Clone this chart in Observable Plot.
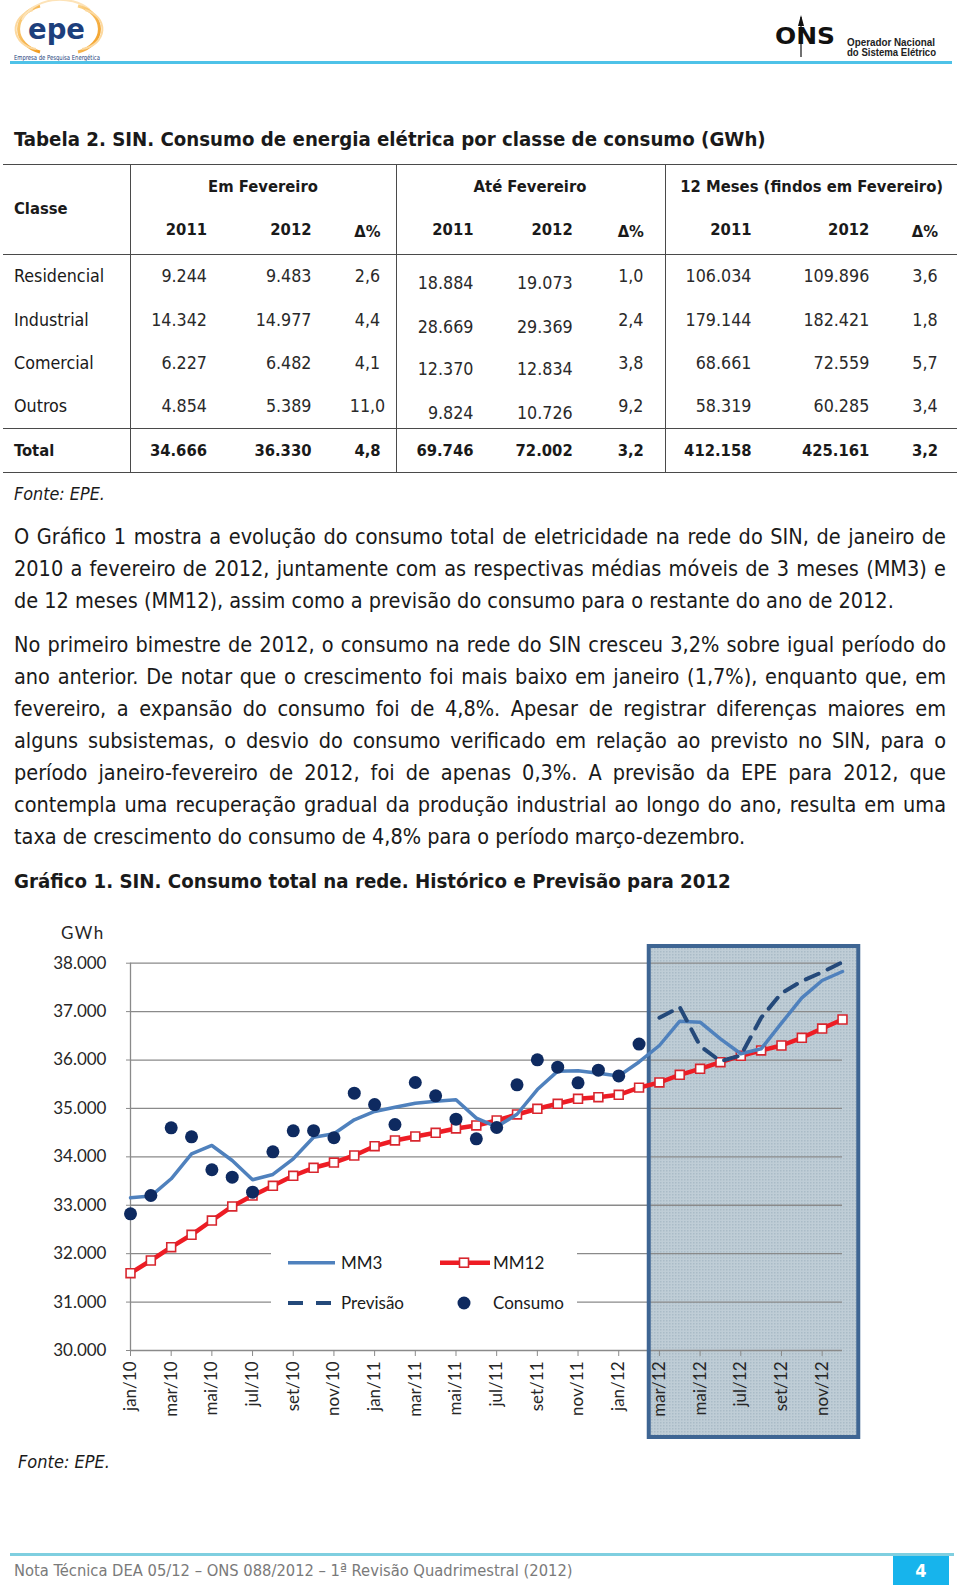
<!DOCTYPE html>
<html lang="pt">
<head>
<meta charset="utf-8">
<script src="https://cdn.jsdelivr.net/npm/d3@7"></script>
<script src="https://cdn.jsdelivr.net/npm/@observablehq/plot@0.6"></script>
<style>
html,body{margin:0;padding:0;background:#fff;}
#page{position:relative;width:960px;height:1591px;overflow:hidden;background:#fff;
 font-family:"DejaVu Sans Condensed","DejaVu Sans",sans-serif;font-stretch:condensed;color:#1a1a1a;}
.t{position:absolute;white-space:nowrap;}
.p{position:absolute;left:14px;width:932px;line-height:32px;text-align:justify;}
.j{text-align-last:justify;}
</style>
</head>
<body>
<div id="page"></div>
<script>
// ---------------- DATA ----------------
const tableTitle = "Tabela 2. SIN. Consumo de energia elétrica por classe de consumo (GWh)";
const classes = ["Residencial","Industrial","Comercial","Outros"];
const totalLabel = "Total";
const emFev2011 = [9244,14342,6227,4854];
const emFev2012 = [9483,14977,6482,5389];
const emFevDelta = [2.6,4.4,4.1,11.0];
const ateFev2011 = [18884,28669,12370,9824];
const ateFev2012 = [19073,29369,12834,10726];
const ateFevDelta = [1.0,2.4,3.8,9.2];
const m12_2011 = [106034,179144,68661,58319];
const m12_2012 = [109896,182421,72559,60285];
const m12Delta = [3.6,1.8,5.7,3.4];
const totals = [34666,36330,4.8,69746,72002,3.2,412158,425161,3.2];

const para1 = [
 "O Gráfico 1 mostra a evolução do consumo total de eletricidade na rede do SIN, de janeiro de",
 "2010 a fevereiro de 2012, juntamente com as respectivas médias móveis de 3 meses (MM3) e",
 "de 12 meses (MM12), assim como a previsão do consumo para o restante do ano de 2012."
];
const para2 = [
 "No primeiro bimestre de 2012, o consumo na rede do SIN cresceu 3,2% sobre igual período do",
 "ano anterior. De notar que o crescimento foi mais baixo em janeiro (1,7%), enquanto que, em",
 "fevereiro, a expansão do consumo foi de 4,8%. Apesar de registrar diferenças maiores em",
 "alguns subsistemas, o desvio do consumo verificado em relação ao previsto no SIN, para o",
 "período janeiro-fevereiro de 2012, foi de apenas 0,3%. A previsão da EPE para 2012, que",
 "contempla uma recuperação gradual da produção industrial ao longo do ano, resulta em uma",
 "taxa de crescimento do consumo de 4,8% para o período março-dezembro."
];
const chartTitle = "Gráfico 1. SIN. Consumo total na rede. Histórico e Previsão para 2012";

const monthLabels = ["jan/10","fev/10","mar/10","abr/10","mai/10","jun/10","jul/10","ago/10","set/10","out/10","nov/10","dez/10",
 "jan/11","fev/11","mar/11","abr/11","mai/11","jun/11","jul/11","ago/11","set/11","out/11","nov/11","dez/11",
 "jan/12","fev/12","mar/12","abr/12","mai/12","jun/12","jul/12","ago/12","set/12","out/12","nov/12","dez/12"];
const forecastStart = "mar/12";
const consumo = [32824,33202,34600,34414,33733,33580,33270,34104,34538,34540,34394,35315,
 35080,34666,35536,35261,34778,34373,34606,35488,36005,35852,35530,35790,35672,36330];
const mm3 = [33154,33190,33547,34063,34235,33925,33526,33636,33960,34406,34476,34765,
 34937,35026,35109,35150,35179,34800,34620,34880,35390,35770,35780,35728,35670,35960,
 36300,36802,36782,36438,36129,36232,36761,37285,37643,37829];
const mm12 = [31597,31859,32134,32390,32685,32975,33200,33402,33609,33774,33883,34028,
 34220,34338,34421,34497,34586,34648,34751,34875,34993,35096,35199,35233,35282,35430,
 35536,35695,35819,35955,36088,36197,36300,36459,36651,36837];
const previsao = [36873,37092,36290,35976,36094,36873,37381,37629,37815,38021]; // mar/12 - dez/12
const yTicks = [30000,31000,32000,33000,34000,35000,36000,37000,38000];
const legendItems = ["MM3","MM12","Previsão","Consumo"];
const footerText = "Nota Técnica DEA 05/12 – ONS 088/2012 – 1ª Revisão Quadrimestral (2012)";
const pageNumber = "4";
const fonte = "Fonte: EPE.";

// ---------------- HELPERS ----------------
const page = document.getElementById("page");
const loc = d3.formatLocale({decimal:",",thousands:".",grouping:[3],currency:["",""]});
const f0 = loc.format(",.0f"), f1 = loc.format(".1f");
function put(text,x,y,o={}){
  const el=document.createElement("div");
  el.className="t"; el.textContent=text;
  const lh=o.lh||24;
  el.style.left=x+"px"; el.style.top=(y-lh/2)+"px"; el.style.lineHeight=lh+"px";
  if(o.size) el.style.fontSize=o.size+"px";
  if(o.bold) el.style.fontWeight="bold";
  if(o.italic) el.style.fontStyle="italic";
  if(o.color) el.style.color=o.color;
  if(o.family) el.style.fontFamily=o.family;
  if(o.align==="right") el.style.transform="translateX(-100%)";
  if(o.align==="center") el.style.transform="translateX(-50%)";
  page.appendChild(el); return el;
}
function fit(el,target){el.style.fontSize="20px";const w=el.getBoundingClientRect().width;const s=20*target/w;el.style.fontSize=s+"px";return s;}
function box(x,y,w,h,bg){const d=document.createElement("div");d.style.cssText=`position:absolute;left:${x}px;top:${y}px;width:${w}px;height:${h}px;background:${bg};`;page.appendChild(d);return d;}

// ---------------- HEADER ----------------
const hdr=document.createElement("div");
hdr.innerHTML=`
<svg style="position:absolute;left:0;top:0" width="130" height="66">
 <defs><linearGradient id="og" x1="0" y1="0" x2="1" y2="1"><stop offset="0" stop-color="#fbd48a"/><stop offset="1" stop-color="#f29b1d"/></linearGradient></defs>
 <path d="M40 6 A30 24 0 0 0 40 52" fill="none" stroke="url(#og)" stroke-width="3"/>
 <path d="M33 10 A24 20 0 0 0 36 49" fill="none" stroke="#fcd9a0" stroke-width="2"/>
 <path d="M22 20 A40 30 0 0 1 90 10" fill="none" stroke="#fde3b8" stroke-width="2"/>
 <path d="M78 6 A30 24 0 0 1 78 52" fill="none" stroke="url(#og)" stroke-width="3"/>
 <path d="M85 10 A24 20 0 0 1 82 49" fill="none" stroke="#fcd9a0" stroke-width="2"/>
 <text x="28" y="39" font-family="DejaVu Sans" font-weight="bold" font-size="29" fill="#1d3f7c" textLength="57" lengthAdjust="spacingAndGlyphs">epe</text>
 <text x="14" y="59.5" font-family="DejaVu Sans Condensed, DejaVu Sans" font-size="7" fill="#1d3f7c" textLength="86" lengthAdjust="spacingAndGlyphs">Empresa de Pesquisa Energética</text>
</svg>
<svg style="position:absolute;left:760px;top:10px" width="200" height="55">
 <text x="15" y="34" font-family="DejaVu Sans" font-weight="bold" font-size="23" fill="#111" textLength="60" lengthAdjust="spacingAndGlyphs">ONS</text>
 <line x1="41" y1="7" x2="41" y2="47" stroke="#111" stroke-width="1.2"/>
 <path d="M41 5 L38 16 L44 16 Z" fill="#111"/>
 <text x="87" y="35.5" font-family="Liberation Sans, Arial, sans-serif" font-weight="bold" font-size="10.5" fill="#222" textLength="88" lengthAdjust="spacingAndGlyphs">Operador Nacional</text>
 <text x="87" y="45.5" font-family="Liberation Sans, Arial, sans-serif" font-weight="bold" font-size="10.5" fill="#222" textLength="89" lengthAdjust="spacingAndGlyphs">do Sistema Elétrico</text>
</svg>`;
page.appendChild(hdr);
box(10,61,942,2.5,"#4ec2e8");

// ---------------- TABLE ----------------
const tt=put(tableTitle,14,139,{bold:true,lh:30}); fit(tt,752);
const probe=put(classes[0],14,276,{}); const bodySize=fit(probe,90.3); probe.remove();
const lineCol="#4a4a4a";
box(3,163.5,954,1.6,lineCol); box(3,253.5,954,1.6,lineCol); box(3,427.5,954,1.6,lineCol); box(3,471.5,954,1.6,lineCol);
[130.3,396.7,665.7].forEach(x=>box(x-0.8,164,1.6,308.5,lineCol));
const S=bodySize;
const h12=put("12 Meses (findos em Fevereiro)",811.7,186.7,{bold:true,align:"center"});
const B=fit(h12,263);
put("Classe",14,209,{size:B,bold:true});
put("Em Fevereiro",263,186.7,{size:B,bold:true,align:"center"});
put("Até Fevereiro",530,186.7,{size:B,bold:true,align:"center"});
const cols=[207,311.5,367.5,473.5,572.7,630.8,751.5,869.3,925];
const al=["right","right","center","right","right","center","right","right","center"];
const hdr2=["2011","2012","Δ%","2011","2012","Δ%","2011","2012","Δ%"];
hdr2.forEach((h,i)=>put(h,cols[i],230+(i%3===2?2:0),{size:B,bold:true,align:al[i]}));
const rowY=[276,320,362.7,406];
const series=[emFev2011,emFev2012,emFevDelta,ateFev2011,ateFev2012,ateFevDelta,m12_2011,m12_2012,m12Delta];
classes.forEach((c,r)=>{
  put(c,14,rowY[r],{size:S});
  series.forEach((s,i)=>{
    const txt=(i%3===2)?f1(s[r]):f0(s[r]);
    const off=(i===3||i===4)?6.5:0;
    put(txt,cols[i],rowY[r]+off,{size:S,align:al[i],color:"#2a2a2a"});
  });
});
put(totalLabel,14,450.7,{size:B,bold:true});
totals.forEach((v,i)=>put((i%3===2)?f1(v):f0(v),cols[i],450.7,{size:B,bold:true,align:al[i]}));
const fo1=put(fonte,14,494,{italic:true}); fit(fo1,91);

// ---------------- PARAGRAPHS ----------------
const probeA=put(para1[2],14,0,{}); const sA=fit(probeA,876); probeA.remove();
const probeB=put(para2[6],14,0,{}); const sB=fit(probeB,735); probeB.remove();
let pSize=(sA+sB)/2;
const allJ=[...para1.slice(0,2),...para2.slice(0,6)];
let maxW=0; allJ.forEach(l=>{const e=put(l,0,0,{size:pSize});maxW=Math.max(maxW,e.getBoundingClientRect().width);e.remove();});
if(maxW>928) pSize*=928/maxW;
function para(lines,ys){
  lines.forEach((l,i)=>{const d=document.createElement("div");d.className="p"+(i<lines.length-1?" j":"");
    d.style.top=(ys[i]-16)+"px";d.style.fontSize=pSize+"px";d.textContent=l;page.appendChild(d);});
}
para(para1,[537,569,601]);
para(para2,[645.4,677,709.3,741,773.3,805,837.2]);
const ct=put(chartTitle,14,881,{bold:true,lh:30}); fit(ct,717);

// ---------------- CHART ----------------
const iStart=monthLabels.indexOf(forecastStart);
const last=monthLabels.length-1;
const xTicks=monthLabels.map((d,i)=>i).filter(i=>i%2===0);
const gridC="#8a8a8a";
const chart=Plot.plot({
  width:960,height:545,marginLeft:130,marginRight:118,marginTop:62.7,marginBottom:95,
  style:{fontFamily:"Lato, 'Open Sans', sans-serif",fontSize:"17px",color:"#262626",background:"none",overflow:"visible"},
  x:{type:"linear",domain:[0,last]},
  y:{type:"linear",domain:[30000,38000]},
  marks:[
    Plot.rect([0],{x1:iStart-0.5,x2:last+0.8,y1:28203,y2:38345,fill:"url(#shade)"}),
    Plot.ruleY(yTicks,{x1:0,x2:last,stroke:gridC,strokeWidth:1.3}),
    Plot.ruleX([0],{y1:30000,y2:38000,stroke:gridC,strokeWidth:1.3}),
    Plot.rect([0],{x1:iStart-0.5,x2:last+0.8,y1:28203,y2:38345,fill:"none",stroke:"#3e6593",strokeWidth:4}),
    Plot.axisY(yTicks,{anchor:"left",tickSize:4,tickPadding:20,tickFormat:f0,fontSize:17,stroke:gridC,label:null}),
    Plot.axisX(xTicks,{anchor:"bottom",tickSize:6,tickPadding:5,tickRotate:-90,tickFormat:i=>monthLabels[i],fontSize:17,stroke:gridC,label:null}),
    Plot.line(mm12,{x:(d,i)=>i,y:d=>d,stroke:"#ee1c24",strokeWidth:4.5}),
    Plot.dot(mm12,{x:(d,i)=>i,y:d=>d,symbol:"square",r:5,fill:"white",stroke:"#d8262e",strokeWidth:1.6}),
    Plot.line(mm3,{x:(d,i)=>i,y:d=>d,stroke:"#4f81bd",strokeWidth:3.5}),
    Plot.line(previsao,{x:(d,i)=>i+iStart,y:d=>d,stroke:"#24497a",strokeWidth:4,strokeDasharray:"14,10"}),
    Plot.dot(consumo,{x:(d,i)=>i,y:d=>d,r:6.5,fill:"#0e2a60"})
  ]
});
const NS="http://www.w3.org/2000/svg";
const defs=document.createElementNS(NS,"defs");
const pat=document.createElementNS(NS,"pattern");
pat.setAttribute("id","shade");pat.setAttribute("width","3");pat.setAttribute("height","3");pat.setAttribute("patternUnits","userSpaceOnUse");
const r1=document.createElementNS(NS,"rect");r1.setAttribute("width","3");r1.setAttribute("height","3");r1.setAttribute("fill","#bfcdd6");
const r2=document.createElementNS(NS,"rect");r2.setAttribute("width","1.5");r2.setAttribute("height","1.5");r2.setAttribute("fill","#aabbc7");
pat.appendChild(r1);pat.appendChild(r2);defs.appendChild(pat);chart.insertBefore(defs,chart.firstChild);
const holder=document.createElement("div");holder.style.cssText="position:absolute;left:0;top:900px;";
holder.appendChild(chart);page.appendChild(holder);

put("GWh",61,933,{family:"Lato, sans-serif",size:17,color:"#262626"}).style.letterSpacing="1.5px";

// legend (inside the plot area, white backdrop)
const lg=document.createElement("div");
lg.innerHTML=`<svg style="position:absolute;left:271px;top:1207px;background:#fff" width="306" height="138" font-family="Lato, sans-serif" font-size="17" fill="#1a1a1a">
 <line x1="17" x2="64" y1="55.7" y2="55.7" stroke="#4f81bd" stroke-width="3.5"/>
 <text x="70" y="55.7" dy="0.35em">${legendItems[0]}</text>
 <line x1="169" x2="219" y1="55.7" y2="55.7" stroke="#ee1c24" stroke-width="4.5"/>
 <rect x="188.5" y="51.2" width="9" height="9" fill="#fff" stroke="#d8262e" stroke-width="1.6"/>
 <text x="222" y="55.7" dy="0.35em">${legendItems[1]}</text>
 <line x1="17" x2="62" y1="96" y2="96" stroke="#24497a" stroke-width="4" stroke-dasharray="15,13"/>
 <text x="70" y="96" dy="0.35em">${legendItems[2]}</text>
 <circle cx="193" cy="96" r="6.5" fill="#0e2a60"/>
 <text x="222" y="96" dy="0.35em">${legendItems[3]}</text>
</svg>`;
page.appendChild(lg);

const fo2=put(fonte,18,1462,{italic:true}); fit(fo2,92);

// ---------------- FOOTER ----------------
box(10,1552.5,944,3,"#7fcfe0");
const ft=put(footerText,14,1571,{color:"#7a7a7a"}); fit(ft,559);
const pb=box(893,1556,56,29,"#17b4ec");
pb.style.cssText+="color:#fff;font-weight:bold;font-size:18px;line-height:29px;text-align:center;";
pb.textContent=pageNumber;
</script>
</body>
</html>
